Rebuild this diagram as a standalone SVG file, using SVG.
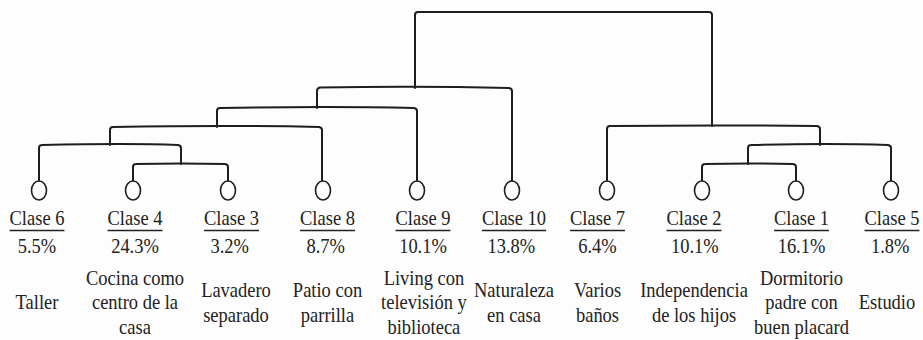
<svg xmlns="http://www.w3.org/2000/svg" width="923" height="340" viewBox="0 0 923 340">
<style>
.bg{fill:#fdfdfd}
.ln{fill:none;stroke:#1e1e1e;stroke-width:2;stroke-linecap:round;stroke-linejoin:round}
.nd{fill:#fdfdfd;stroke:#1e1e1e;stroke-width:1.6}
text{font-size:21px;fill:#222;text-anchor:middle}
.ul{stroke:#222;stroke-width:1.3}
</style>
<rect class="bg" x="0" y="0" width="923" height="340"/>
<g id="connectors">
<path class="ln" d="M415 88 V15 Q415 12 418 12 H709 Q712 12 712 15 V126"/>
<path class="ln" d="M317 108 V91 Q317 88 320 87.5 Q420 86 509 88 Q512 88.5 512 91 V181"/>
<path class="ln" d="M217 127 V111 Q217 108 220 108 Q330 106 414 108 Q417 108.5 417 111 V181"/>
<path class="ln" d="M110 145 V130 Q110 127 113 127 Q230 125 319 127 Q322 127.5 322 130 V181"/>
<path class="ln" d="M39 181 V148 Q39 145 42 145 Q130 143 178 145 Q181 145.5 181 148 V164"/>
<path class="ln" d="M133 181 V167 Q133 164 136 164 Q180 163 225 164 Q228 164.5 228 167 V181"/>
<path class="ln" d="M607 181 V129 Q607 126 610 126 Q720 125 817 126 Q820 126.5 820 129 V145"/>
<path class="ln" d="M748 164 V148 Q748 145 751 145 Q830 143 888 145 Q891 145.5 891 148 V181"/>
<path class="ln" d="M702 181 V167 Q702 164 705 164 Q750 163 793 164 Q796 164.5 796 167 V181"/>
</g>
<g id="nodes" font-family="Liberation Serif, serif">
<g id="clase6">
<ellipse class="nd" cx="39" cy="190.5" rx="7.5" ry="9.5"/>
<g transform="translate(37,0) scale(0.88,1)"><text x="0" y="225">Clase 6</text><line class="ul" x1="-31.2" y1="230.5" x2="31.2" y2="230.5"/><text x="0" y="253">5.5%</text><text x="0" y="309.5">Taller</text></g>
</g>
<g id="clase4">
<ellipse class="nd" cx="133" cy="190.5" rx="7.5" ry="9.5"/>
<g transform="translate(135,0) scale(0.88,1)"><text x="0" y="225">Clase 4</text><line class="ul" x1="-31.2" y1="230.5" x2="31.2" y2="230.5"/><text x="0" y="253">24.3%</text><text x="0" y="285">Cocina como</text><text x="0" y="309.5">centro de la</text><text x="0" y="334">casa</text></g>
</g>
<g id="clase3">
<ellipse class="nd" cx="228" cy="190.5" rx="7.5" ry="9.5"/>
<g transform="translate(231.5,0) scale(0.88,1)"><text x="0" y="225">Clase 3</text><line class="ul" x1="-31.2" y1="230.5" x2="31.2" y2="230.5"/><text x="-2" y="253">3.2%</text></g>
<g transform="translate(236,0) scale(0.88,1)"><text x="0" y="297.5">Lavadero</text><text x="0" y="322">separado</text></g>
</g>
<g id="clase8">
<ellipse class="nd" cx="323" cy="190.5" rx="7.5" ry="9.5"/>
<g transform="translate(327.5,0) scale(0.88,1)"><text x="0" y="225">Clase 8</text><line class="ul" x1="-31.2" y1="230.5" x2="31.2" y2="230.5"/><text x="-2" y="253">8.7%</text><text x="0" y="297.5">Patio con</text><text x="0" y="322">parrilla</text></g>
</g>
<g id="clase9">
<ellipse class="nd" cx="417" cy="190.5" rx="7.5" ry="9.5"/>
<g transform="translate(423,0) scale(0.88,1)"><text x="0" y="225">Clase 9</text><line class="ul" x1="-31.2" y1="230.5" x2="31.2" y2="230.5"/><text x="0" y="253">10.1%</text><text x="1" y="285">Living con</text><text x="1" y="309.5">televisión y</text><text x="1" y="334">biblioteca</text></g>
</g>
<g id="clase10">
<ellipse class="nd" cx="512" cy="190.5" rx="7.5" ry="9.5"/>
<g transform="translate(514,0) scale(0.88,1)"><text x="0" y="225">Clase 10</text><line class="ul" x1="-36.5" y1="230.5" x2="36.5" y2="230.5"/><text x="-3" y="253">13.8%</text><text x="0" y="297.5">Naturaleza</text><text x="0" y="322">en casa</text></g>
</g>
<g id="clase7">
<ellipse class="nd" cx="607" cy="190.5" rx="7.5" ry="9.5"/>
<g transform="translate(597.5,0) scale(0.88,1)"><text x="0" y="225">Clase 7</text><line class="ul" x1="-31.2" y1="230.5" x2="31.2" y2="230.5"/><text x="0" y="253">6.4%</text><text x="0" y="297.5">Varios</text><text x="0" y="322">baños</text></g>
</g>
<g id="clase2">
<ellipse class="nd" cx="702" cy="190.5" rx="7.5" ry="9.5"/>
<g transform="translate(694,0) scale(0.88,1)"><text x="0" y="225">Clase 2</text><line class="ul" x1="-31.2" y1="230.5" x2="31.2" y2="230.5"/><text x="1" y="253">10.1%</text><text x="0" y="297.5">Independencia</text><text x="0" y="322">de los hijos</text></g>
</g>
<g id="clase1">
<ellipse class="nd" cx="796" cy="190.5" rx="7.5" ry="9.5"/>
<g transform="translate(801.5,0) scale(0.88,1)"><text x="0" y="225">Clase 1</text><line class="ul" x1="-31.2" y1="230.5" x2="31.2" y2="230.5"/><text x="0" y="253">16.1%</text><text x="0" y="285">Dormitorio</text><text x="0" y="309.5">padre con</text><text x="0" y="334">buen placard</text></g>
</g>
<g id="clase5">
<ellipse class="nd" cx="891" cy="190.5" rx="7.5" ry="9.5"/>
<g transform="translate(892,0) scale(0.88,1)"><text x="0" y="225">Clase 5</text><line class="ul" x1="-31.2" y1="230.5" x2="31.2" y2="230.5"/><text x="-2" y="253">1.8%</text></g>
<g transform="translate(887,0) scale(0.88,1)"><text x="0" y="309.5">Estudio</text></g>
</g>
</g>
</svg>
